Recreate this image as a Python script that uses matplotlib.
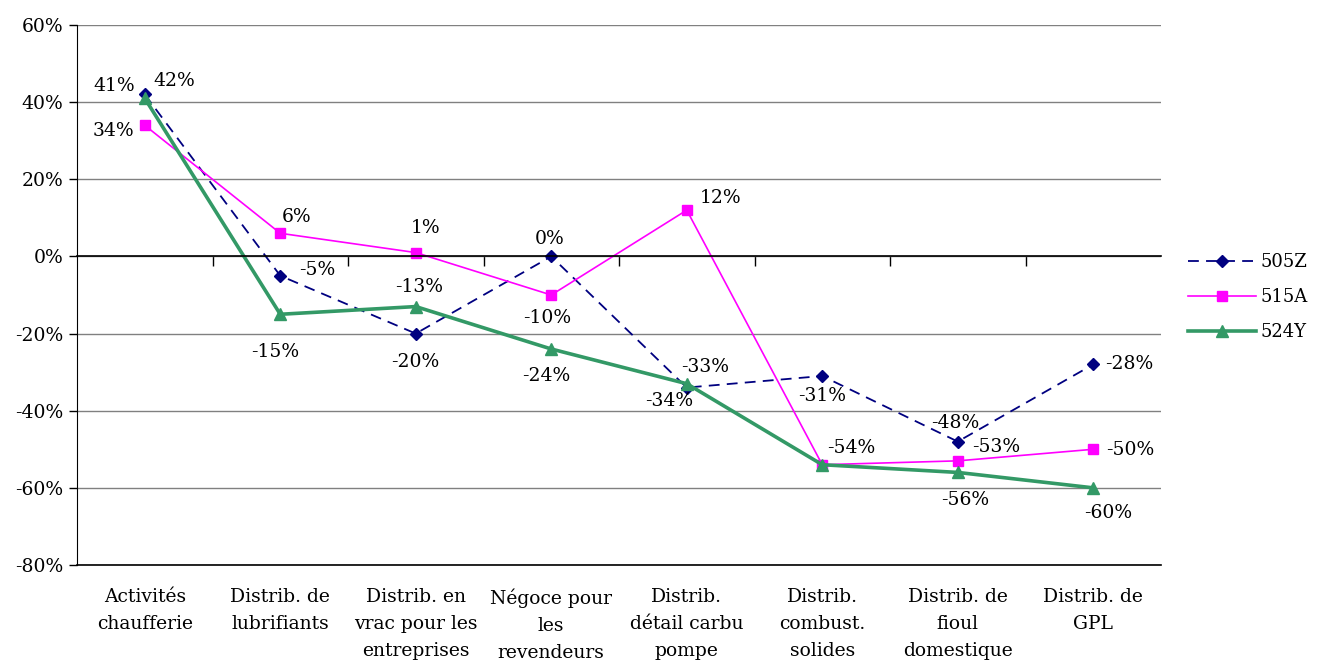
import numpy as np
import matplotlib
matplotlib.use('Agg')
from matplotlib import pyplot as plt
import matplotlib.transforms as mtransforms

# data
categories = [
  'Activités\nchaufferie',
  'Distrib. de\nlubrifiants',
  'Distrib. en\nvrac pour les\nentreprises',
  'Négoce pour\nles\nrevendeurs',
  'Distrib.\ndétail carbu\npompe',
  'Distrib.\ncombust.\nsolides',
  'Distrib. de\nfioul\ndomestique',
  'Distrib. de\nGPL',
]
s505z = [42, -5, -20, 0, -34, -31, -48, -28]
s515a = [34, 6, 1, -10, 12, -54, -53, -50]
s524y = [41, -15, -13, -24, -33, -54, -56, -60]
yticks = [60, 40, 20, 0, -20, -40, -60, -80]

# label offsets in pixels (None = hidden)
off505 = [(30, 13), (37, 6), (0, -28), (-2, 17), (-18, -13), (0, -20), (-3, 19), (36, 0)]
off515 = [(-31, -6), (16, 16), (10, 25), (-4, -23), (34, 12), (29, 17), (38, 14), (37, -1)]
off524 = [(-31, 12), (-5, -38), (3, 20), (-5, -27), (18, 17), None, (7, -28), (15, -25)]

FS = 13.5
plt.rcParams['font.family'] = ['DejaVu Serif']
plt.rcParams['font.size'] = FS

fig = plt.figure(figsize=(13.17, 6.68), dpi=100)
ax = fig.add_axes([77/1317, 1-565/668, (1161-77)/1317, (565-25)/668])

x = np.arange(len(categories))
l1, = ax.plot(x, s505z, color='#000080', ls=(0, (6, 4)), lw=1.3, marker='D', ms=6, label='505Z')
l2, = ax.plot(x, s515a, color='#FF00FF', lw=1.2, marker='s', ms=7, label='515A')
l3, = ax.plot(x, s524y, color='#339966', lw=2.6, marker='^', ms=8, label='524Y')

for vals, offs in [(s505z, off505), (s515a, off515), (s524y, off524)]:
  for i, v in enumerate(vals):
    if offs[i] is None:
      continue
    ax.annotate('%d%%' % v, (i, v), xytext=offs[i], textcoords='offset pixels',
                ha='center', va='center', fontsize=FS, color='black')

ax.set_xlim(-0.5, len(categories) - 0.5)
ax.set_ylim(-80, 60)
ax.set_yticks(yticks)
ax.set_yticklabels(['%d%%' % t for t in yticks], fontsize=FS)
ax.yaxis.grid(True, color='#808080', lw=1)
ax.set_axisbelow(True)
ax.axhline(-80, color='black', lw=1.2, clip_on=False)

# x axis line at 0 with ticks between categories
ax.spines['top'].set_visible(False)
ax.spines['right'].set_visible(False)
ax.spines['bottom'].set_position(('data', 0))
ax.spines['bottom'].set_linewidth(1.2)
ax.set_xticks(np.arange(0.5, len(categories) - 0.5, 1))
ax.set_xticklabels([])
ax.tick_params(axis='x', direction='out', length=7, width=1)
ax.tick_params(axis='y', direction='out', length=6, width=1, pad=4)

trans = mtransforms.blended_transform_factory(ax.transData, ax.transAxes)
for i, c in enumerate(categories):
  ax.text(i, -0.043, c, transform=trans, ha='center', va='top', fontsize=FS, linespacing=1.65)

fig.legend(handles=[l1, l2, l3], loc='center left', bbox_to_anchor=(1175/1317, 1-297/668),
           frameon=False, handlelength=3.8, handletextpad=0.25, labelspacing=0.95, fontsize=13,
           borderaxespad=0.3)

fig.savefig('out.png', dpi=100)
